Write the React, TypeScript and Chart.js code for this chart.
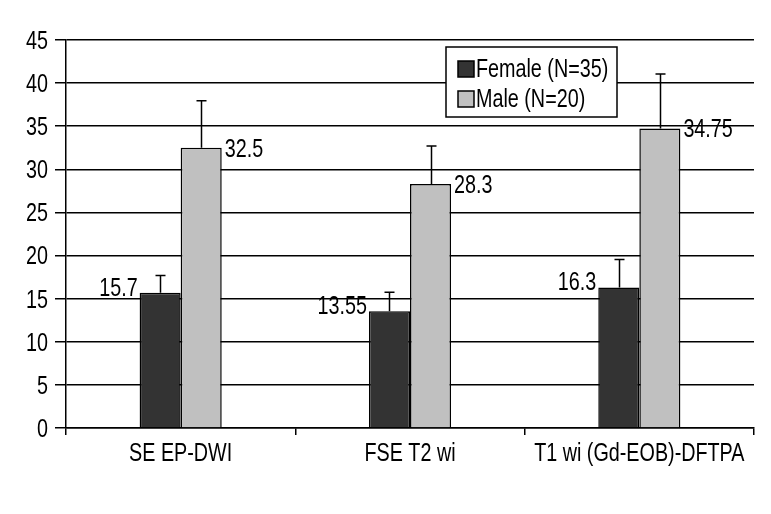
import React, { useEffect, useRef } from "react";
import { Chart, registerables } from "chart.js";

Chart.register(...registerables);

const categories = ["SE EP-DWI", "FSE T2 wi", "T1 wi (Gd-EOB)-DFTPA"];
const femaleValues = [15.7, 13.55, 16.3];
const maleValues = [32.5, 28.3, 34.75];
const femaleErrors = [2.0, 2.2, 3.25];
const maleErrors = [5.45, 4.4, 6.3];
const femaleLabels = ["15.7", "13.55", "16.3"];
const maleLabels = ["32.5", "28.3", "34.75"];
const seriesNames = ["Female (N=35)", "Male (N=20)"];
const yMin = 0;
const yMax = 45;
const yStep = 5;

const FONT_FAMILY = '"Liberation Sans", Arial, sans-serif';
const FONT_SIZE = 25;
const SQUEEZE = 0.79;
const FEMALE_COLOR = "#333333";
const MALE_COLOR = "#c0c0c0";

function narrowText(
  ctx: CanvasRenderingContext2D,
  text: string,
  x: number,
  y: number,
  align: CanvasTextAlign,
  size: number = FONT_SIZE
) {
  ctx.save();
  ctx.font = `${size}px ${FONT_FAMILY}`;
  ctx.fillStyle = "#000";
  ctx.textAlign = align;
  ctx.textBaseline = "middle";
  ctx.translate(x, y);
  ctx.scale(SQUEEZE, 1);
  ctx.fillText(text, 0, 0);
  ctx.restore();
}

const axisLabelPlugin = {
  id: "axisLabels",
  afterDraw(chart: any) {
    const ctx = chart.ctx;
    const xs = chart.scales.x;
    const ys = chart.scales.y;
    ys.ticks.forEach((t: any, i: number) => {
      const py = ys.getPixelForTick(i);
      narrowText(ctx, String(t.value), ys.right - 18, py + 2, "right");
    });
    categories.forEach((c, i) => {
      const px = xs.getPixelForValue(i);
      narrowText(ctx, c, px, xs.top + 26, "center");
    });
  },
};

const errorBarPlugin = {
  id: "errorBars",
  afterDatasetsDraw(chart: any) {
    const ctx = chart.ctx;
    const yScale = chart.scales.y;
    const errs = [femaleErrors, maleErrors];
    ctx.save();
    ctx.strokeStyle = "#000";
    ctx.lineWidth = 1.5;
    chart.data.datasets.forEach((ds: any, di: number) => {
      const meta = chart.getDatasetMeta(di);
      meta.data.forEach((el: any, i: number) => {
        const v = ds.data[i];
        const top = yScale.getPixelForValue(v + errs[di][i]);
        const x = Math.round(el.x) + 0.5;
        ctx.beginPath();
        ctx.moveTo(x, el.y);
        ctx.lineTo(x, top);
        ctx.moveTo(x - 5, top);
        ctx.lineTo(x + 5, top);
        ctx.stroke();
      });
    });
    ctx.restore();
  },
};

const valueLabelPlugin = {
  id: "valueLabels",
  afterDatasetsDraw(chart: any) {
    const ctx = chart.ctx;
    const labels = [femaleLabels, maleLabels];
    chart.data.datasets.forEach((ds: any, di: number) => {
      const meta = chart.getDatasetMeta(di);
      meta.data.forEach((el: any, i: number) => {
        const half = el.width / 2;
        if (di === 0) {
          narrowText(ctx, labels[di][i], el.x - half - 2, el.y - 4, "right");
        } else {
          narrowText(ctx, labels[di][i], el.x + half + 3, el.y + 2, "left");
        }
      });
    });
  },
};

const boxLegendPlugin = {
  id: "boxLegend",
  afterDraw(chart: any) {
    const ctx = chart.ctx;
    const area = chart.chartArea;
    const x = area.right - 308;
    const y = area.top + 7;
    const w = 171;
    const h = 70;
    ctx.save();
    ctx.fillStyle = "#fff";
    ctx.fillRect(x, y, w, h);
    ctx.strokeStyle = "#000";
    ctx.lineWidth = 1.5;
    ctx.strokeRect(x, y, w, h);
    ctx.restore();
    chart.data.datasets.forEach((ds: any, di: number) => {
      const cy = y + 22 + di * 30;
      ctx.save();
      ctx.fillStyle = ds.backgroundColor;
      ctx.fillRect(x + 12, cy - 8, 16, 16);
      ctx.strokeStyle = "#000";
      ctx.lineWidth = 1.5;
      ctx.strokeRect(x + 12, cy - 8, 16, 16);
      ctx.restore();
      narrowText(ctx, ds.label, x + 30, cy + 1, "left");
    });
  },
};

export default function App() {
  const canvasRef = useRef<HTMLCanvasElement | null>(null);

  useEffect(() => {
    if (!canvasRef.current) return;
    const chart = new Chart(canvasRef.current, {
      type: "bar",
      data: {
        labels: categories,
        datasets: [
          {
            label: seriesNames[0],
            data: femaleValues,
            backgroundColor: FEMALE_COLOR,
            borderColor: "#000",
            borderWidth: 1.5,
            barPercentage: 1,
            categoryPercentage: 0.358,
          },
          {
            label: seriesNames[1],
            data: maleValues,
            backgroundColor: MALE_COLOR,
            borderColor: "#000",
            borderWidth: 1.5,
            barPercentage: 1,
            categoryPercentage: 0.358,
          },
        ],
      },
      options: {
        animation: false,
        responsive: false,
        maintainAspectRatio: false,
        layout: { padding: { top: 40, right: 17, bottom: 0, left: 0 } },
        plugins: {
          legend: { display: false },
          tooltip: { enabled: false },
        },
        scales: {
          x: {
            offset: true,
            grid: {
              offset: true,
              drawOnChartArea: true,
              color: (c: any) => (c.index === categories.length ? "#000" : "rgba(0,0,0,0)"),
              tickColor: "#000",
              tickLength: 7,
              lineWidth: 1.5,
            },
            border: { color: "#000", width: 1.5 },
            ticks: { display: false },
            afterFit: (s: any) => {
              s.height = 86;
            },
          },
          y: {
            min: yMin,
            max: yMax,
            grid: {
              color: "#000",
              lineWidth: 1.5,
              tickLength: 11,
              tickColor: "#000",
            },
            border: { color: "#000", width: 1.5 },
            ticks: { stepSize: yStep, display: false },
            afterFit: (s: any) => {
              s.width = 66;
            },
          },
        },
      },
      plugins: [errorBarPlugin, valueLabelPlugin, boxLegendPlugin, axisLabelPlugin],
    });
    return () => chart.destroy();
  }, []);

  return (
    <div style={{ position: "fixed", left: 0, top: 0, width: 771, height: 514, background: "#fff" }}>
      <canvas ref={canvasRef} width={771} height={514} style={{ width: 771, height: 514 }} />
    </div>
  );
}
